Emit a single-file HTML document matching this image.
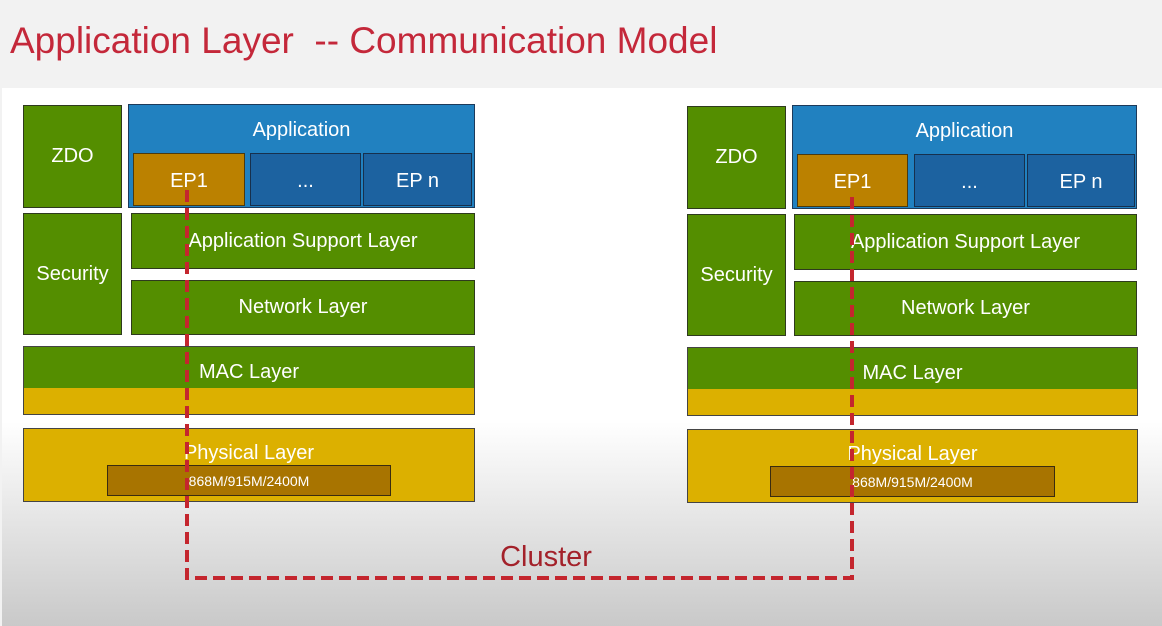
<!DOCTYPE html>
<html><head><meta charset="utf-8"><style>
body{margin:0;width:1162px;height:626px;overflow:hidden;font-family:"Liberation Sans",sans-serif;}
#bg{position:absolute;left:0;top:0;width:1162px;height:626px;background:#f2f2f2;}
#w{position:absolute;left:2px;top:88px;width:1160px;height:538px;background:linear-gradient(#fff 0%,#fff 62%,#c9c9c9 100%);}
.b{position:absolute;box-sizing:border-box;border:1.5px solid #2e3a1e;color:#fff;display:flex;align-items:center;justify-content:center;font-size:20px;}
.g{background:#548e00;}
.bl{background:#2181c0;border-color:#1d3a5a;}
.db{background:#1c62a0;border-color:#17304d;}
.o{background:#bb8100;border-color:#4a3a10;}
.y{background:#dcb000;border-color:#444;}
.in{background:#a87400;border-color:#3a2c10;font-size:14px;}
h1{position:absolute;left:10px;top:20px;margin:0;font-weight:normal;color:#c4283a;font-size:37px;white-space:nowrap;}
</style></head><body>
<div id="bg"></div><div id="w"></div>
<h1>Application Layer&nbsp; -- Communication Model</h1>

<div class="b g" style="left:23px;top:105px;width:99px;height:103px">ZDO</div>
<div class="b bl" style="left:128px;top:104px;width:347px;height:104px;align-items:flex-start;padding-top:14px">Application</div>
<div class="b o" style="left:133px;top:153px;width:112px;height:53px;padding-top:4px">EP1</div>
<div class="b db" style="left:250px;top:153px;width:111px;height:53px;padding-top:4px">...</div>
<div class="b db" style="left:363px;top:153px;width:109px;height:53px;padding-top:4px">EP n</div>
<div class="b g" style="left:23px;top:213px;width:99px;height:122px">Security</div>
<div class="b g" style="left:131px;top:213px;width:344px;height:56px">Application Support Layer</div>
<div class="b g" style="left:131px;top:280px;width:344px;height:55px">Network Layer</div>
<div class="b y" style="left:23px;top:346px;width:452px;height:69px;background:linear-gradient(#548e00 0,#548e00 61%,#dcb000 61%);align-items:flex-start;padding-top:14px">MAC Layer</div>
<div class="b y" style="left:23px;top:428px;width:452px;height:74px;align-items:flex-start;padding-top:13px">Physical Layer</div>
<div class="b in" style="left:107px;top:465px;width:284px;height:31px">868M/915M/2400M</div>

<div class="b g" style="left:687px;top:106px;width:99px;height:103px">ZDO</div>
<div class="b bl" style="left:792px;top:105px;width:345px;height:104px;align-items:flex-start;padding-top:14px">Application</div>
<div class="b o" style="left:797px;top:154px;width:111px;height:53px;padding-top:4px">EP1</div>
<div class="b db" style="left:914px;top:154px;width:111px;height:53px;padding-top:4px">...</div>
<div class="b db" style="left:1027px;top:154px;width:108px;height:53px;padding-top:4px">EP n</div>
<div class="b g" style="left:687px;top:214px;width:99px;height:122px">Security</div>
<div class="b g" style="left:794px;top:214px;width:343px;height:56px">Application Support Layer</div>
<div class="b g" style="left:794px;top:281px;width:343px;height:55px">Network Layer</div>
<div class="b y" style="left:687px;top:347px;width:451px;height:69px;background:linear-gradient(#548e00 0,#548e00 61%,#dcb000 61%);align-items:flex-start;padding-top:14px">MAC Layer</div>
<div class="b y" style="left:687px;top:429px;width:451px;height:74px;align-items:flex-start;padding-top:13px">Physical Layer</div>
<div class="b in" style="left:770px;top:466px;width:285px;height:31px">868M/915M/2400M</div>

<svg style="position:absolute;left:0;top:0" width="1162" height="626">
<polyline points="187,190 187,578 852,578 852,192" fill="none" stroke="#c4262e" stroke-width="4" stroke-dasharray="12,6"/>
<text x="546" y="566" text-anchor="middle" font-family="Liberation Sans, sans-serif" font-size="29" fill="#a3212a">Cluster</text>
</svg>
</body></html>
